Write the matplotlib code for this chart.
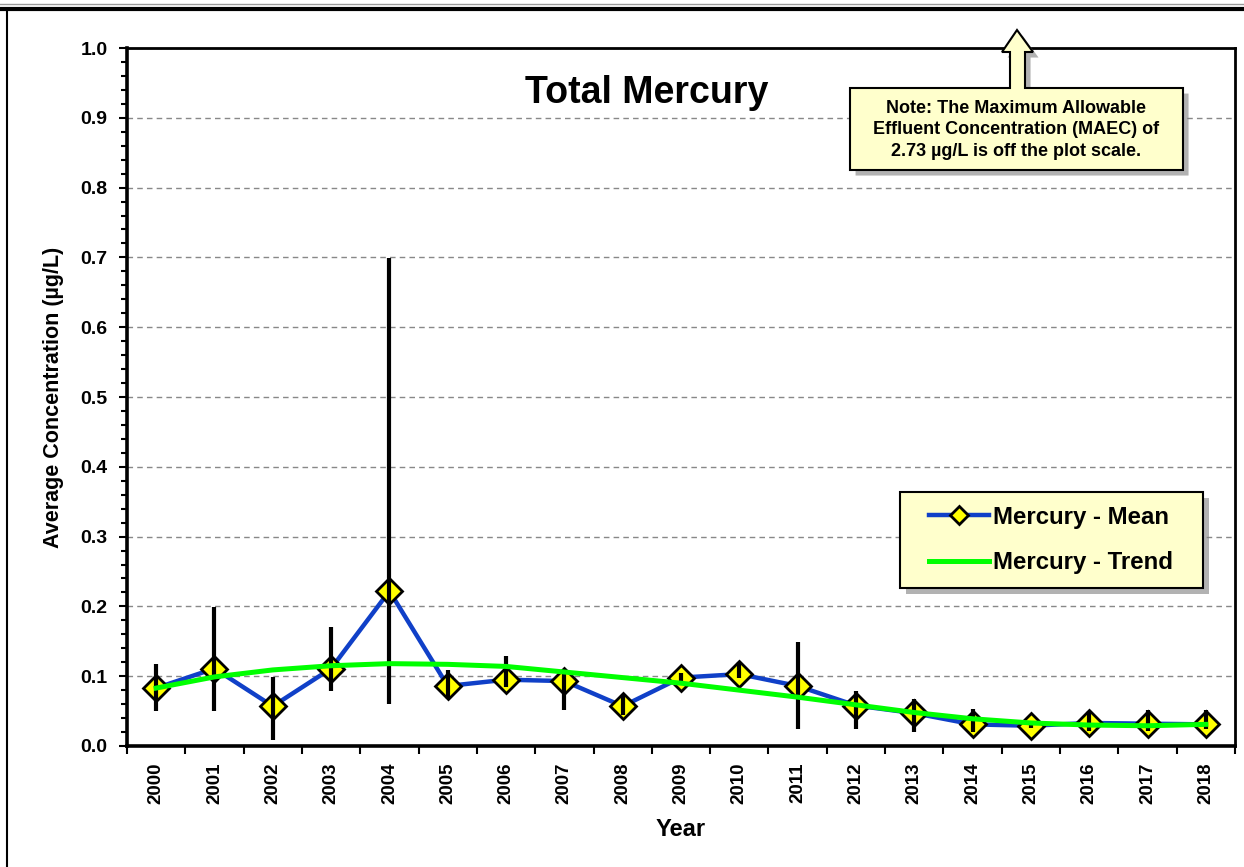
import matplotlib
matplotlib.use("Agg")
import matplotlib.pyplot as plt
import matplotlib.patheffects as pe
from matplotlib.lines import Line2D
from matplotlib.patches import Polygon, Rectangle
from matplotlib.ticker import MultipleLocator, FixedLocator, FormatStrFormatter

plt.rcParams["font.family"] = ["Liberation Sans", "DejaVu Sans"]
plt.rcParams["font.weight"] = "bold"

years = list(range(2000, 2019))
mean = [0.083, 0.111, 0.057, 0.111, 0.222, 0.086, 0.095, 0.093, 0.057, 0.098,
        0.103, 0.086, 0.058, 0.047, 0.031, 0.029, 0.033, 0.032, 0.031]
err_low = [0.050, 0.050, 0.008, 0.079, 0.060, 0.068, 0.085, 0.052, 0.045, 0.092,
           0.097, 0.024, 0.024, 0.020, 0.020, 0.026, 0.022, 0.022, 0.024]
err_high = [0.117, 0.199, 0.099, 0.170, 0.699, 0.109, 0.129, 0.108, 0.073, 0.104,
            0.121, 0.149, 0.079, 0.068, 0.053, 0.034, 0.050, 0.052, 0.052]
trend = [0.083, 0.099, 0.109, 0.115, 0.118, 0.117, 0.114, 0.106, 0.098, 0.090,
         0.080, 0.070, 0.059, 0.048, 0.039, 0.033, 0.030, 0.029, 0.031]

W, H = 1244, 867
fig = plt.figure(figsize=(W / 100, H / 100), dpi=100)
ax = fig.add_axes([127 / W, 1 - 746 / H, (1235 - 127) / W, (746 - 48) / H])


def px(x, y):
    # pixel position in the image -> figure fraction
    return x / W, 1 - y / H


shadow = [pe.SimplePatchShadow(offset=(4, -4), shadow_rgbFace="#808080", alpha=0.6), pe.Normal()]

# mean line with diamonds
ax.plot(years, mean, color="#1040C8", lw=3.2, marker="D", ms=13.5,
        mfc="#FFFF00", mec="black", mew=2, zorder=3, label="Mercury - Mean")
# range bars
yerr = [[m - lo for m, lo in zip(mean, err_low)], [hi - m for m, hi in zip(mean, err_high)]]
ax.errorbar(years, mean, yerr=yerr, fmt="none", ecolor="black", elinewidth=3,
            capsize=0, zorder=4)
ax.plot(years, trend, color="#00FF00", lw=3.6, zorder=5, label="Mercury - Trend")

ax.set_xlim(1999.5, 2018.5)
ax.set_ylim(0, 1.0)
ax.yaxis.set_major_locator(MultipleLocator(0.1))
ax.yaxis.set_minor_locator(MultipleLocator(0.02))
ax.yaxis.set_major_formatter(FormatStrFormatter("%.1f"))
ax.set_xticks(years)
ax.set_xticklabels([str(y) for y in years], rotation=90, fontsize=13.5, fontweight="bold")
ax.xaxis.set_minor_locator(FixedLocator([y + 0.5 for y in range(1999, 2019)]))
ax.tick_params(axis="x", which="major", length=0, pad=12)
ax.tick_params(axis="x", which="minor", length=6, width=1.5, direction="out")
ax.tick_params(axis="y", which="major", length=6, width=1.5, labelsize=14, pad=8)
ax.tick_params(axis="y", which="minor", length=4, width=1.5)
ax.yaxis.grid(True, which="major", ls=(0, (4, 3)), color="#888888", lw=1)
ax.set_axisbelow(True)
for side in ["left", "bottom"]:
    ax.spines[side].set_linewidth(2.6)
for side in ["top", "right"]:
    ax.spines[side].set_linewidth(2)

ax.set_xlabel("Year", fontsize=17, fontweight="bold", labelpad=10)
ax.set_ylabel("Average Concentration (\u00b5g/L)", fontsize=15.5, fontweight="bold", labelpad=12)

fig.text(*px(647, 93), "Total Mercury", fontsize=27, fontweight="bold",
         ha="center", va="center")

# legend: own framed box with shadow, entries without frame on top
x0, y0 = px(900, 588)
x1, y1 = px(1203, 492)
frame = Rectangle((x0, y0), x1 - x0, y1 - y0, transform=fig.transFigure,
                  facecolor="#FFFFCC", edgecolor="black", lw=1.5, zorder=6,
                  path_effects=shadow)
fig.add_artist(frame)
leg = fig.legend(loc="center left", bbox_to_anchor=px(929, 540), frameon=False,
                 fontsize=17.3, handlelength=2.5, handletextpad=0.15,
                 labelspacing=0.95, borderpad=0, borderaxespad=0, markerscale=0.65)
leg.set_zorder(7)
for t in leg.get_texts():
    t.set_fontweight("bold")

# note box with up arrow
outline = [(850, 88), (1010, 88), (1010, 52), (1002, 52), (1017, 30), (1033, 52),
           (1025, 52), (1025, 88), (1183, 88), (1183, 170), (850, 170)]
note = Polygon([px(x, y) for x, y in outline], closed=True,
               transform=fig.transFigure, facecolor="#FFFFCC", edgecolor="black",
               lw=1.5, zorder=10, path_effects=shadow)
fig.add_artist(note)
fig.text(*px(1016, 130),
         "Note: The Maximum Allowable\nEffluent Concentration (MAEC) of\n2.73 \u00b5g/L is off the plot scale.",
         fontsize=13, fontweight="bold", ha="center", va="center", linespacing=1.35, zorder=11)

# page frame lines
fig.add_artist(Line2D([0, 1], [1 - 4 / H, 1 - 4 / H], transform=fig.transFigure,
                      color="#999999", lw=1))
fig.add_artist(Line2D([0, 1], [1 - 8.5 / H, 1 - 8.5 / H], transform=fig.transFigure,
                      color="black", lw=3))
fig.add_artist(Line2D([7.5 / W, 7.5 / W], [0, 1 - 8.5 / H], transform=fig.transFigure,
                      color="black", lw=1.5))

fig.savefig("out.png", dpi=100)
